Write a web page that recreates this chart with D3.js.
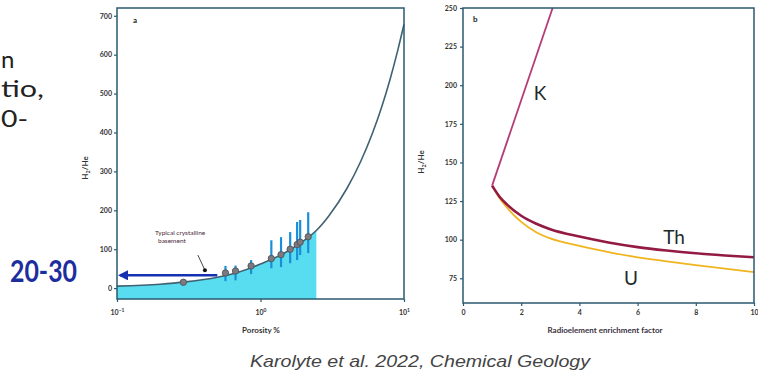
<!DOCTYPE html>
<html>
<head>
<meta charset="utf-8">
<script src="https://cdn.jsdelivr.net/npm/d3@7"></script>
<style>
  body { margin: 0; background: #fff; }
  svg { display: block; }
</style>
</head>
<body>
<div id="chart"></div>
<script>
// ---- data ----
// panel a: model curve, H2/He vs porosity %
var curvePorosity = [0.1, 0.2, 0.3, 0.5, 0.7, 1.0, 1.5, 2.0, 2.45, 3.0, 4.0, 5.0, 6.0, 7.0, 8.0, 9.0, 10];
var curveRatio    = [5, 10, 16, 28, 41, 62, 92, 122, 148, 186, 256, 326, 396, 466, 537, 608, 678];
// panel a: measured samples with error bars
var samplePorosity = [0.29, 0.57, 0.67, 0.86, 1.19, 1.39, 1.61, 1.80, 1.89, 2.15];
var sampleRatio    = [15, 39, 44, 57, 76, 86, 100, 112, 118, 132];
var sampleLow      = [null, 18, 20, 36, 51, 54, 64, 72, 85, 90];
var sampleHigh     = [null, 57, 58, 72, 123, 131, 144, 170, 175, 195];
var basementMax = 2.45;     // cyan band runs up to this porosity
var arrowRatio = 33;        // "20-30" arrow level
var arrowEnd = 0.5;
var yTicksA = [0, 100, 200, 300, 400, 500, 600, 700];
var xTicksA = [0.1, 1, 10];
var xTickExpA = ["\u22121", "0", "1"];

// panel b: H2/He vs radioelement enrichment factor
var enrich  = [1, 1.25, 1.5, 2, 2.5, 3, 4, 5, 6, 7, 8, 9, 10];
var thRatio = [135, 128, 123, 115.5, 110.5, 106.8, 102, 98.2, 95.2, 93, 91.2, 89.8, 88.6];
var uRatio  = [135, 127, 121, 111.5, 105, 100.8, 96, 92, 88.6, 86, 83.5, 81.2, 79];
var kEnrich = [1, 3.08];
var kRatio  = [135, 250];
var yTicksB = [75, 100, 125, 150, 175, 200, 225, 250];
var xTicksB = [0, 2, 4, 6, 8, 10];

var W = 758, H = 379;
var axisColor = "#2b5a70";
var tickFont = "Lato, 'Open Sans', sans-serif";

var svg = d3.select("#chart").append("svg")
    .attr("width", W)
    .attr("height", H);

// ---- slide text cut off at the left ----
var slideText = svg.append("g")
    .style("font-family", "Lato, 'Open Sans', sans-serif")
    .style("font-size", "24px")
    .attr("fill", "#222");
slideText.append("text").attr("x", 1).attr("y", 68).text("n");
slideText.append("text").attr("x", 1).attr("y", 97)
    .attr("textLength", 43).attr("lengthAdjust", "spacingAndGlyphs").text("tio,");
slideText.append("text").attr("x", 1).attr("y", 127)
    .attr("textLength", 27).attr("lengthAdjust", "spacingAndGlyphs").text("0-");

svg.append("text")
    .attr("x", 10).attr("y", 282)
    .attr("textLength", 67)
    .attr("lengthAdjust", "spacingAndGlyphs")
    .style("font-family", "Lato, 'Open Sans', sans-serif")
    .style("font-size", "30px")
    .style("font-weight", "bold")
    .attr("fill", "#1c2e9e")
    .text("20-30");

// ================= panel a =================
var xa = d3.scaleLog().domain([0.1, 10]).range([117, 404]);
var ya = d3.scaleLinear().domain([-28, 720]).range([299, 8]);

var curveData = curvePorosity.map(function (p, i) { return [p, curveRatio[i]]; });

// cyan band under the curve
svg.append("path")
    .datum(curveData.filter(function (d) { return d[0] <= basementMax; }))
    .attr("fill", "#58dcef")
    .attr("d", d3.area()
        .x(function (d) { return xa(d[0]); })
        .y0(ya.range()[0])
        .y1(function (d) { return ya(d[1]); })
        .curve(d3.curveMonotoneX));

// model curve
svg.append("path")
    .datum(curveData)
    .attr("fill", "none")
    .attr("stroke", "#3f6273")
    .attr("stroke-width", 1.6)
    .attr("d", d3.line()
        .x(function (d) { return xa(d[0]); })
        .y(function (d) { return ya(d[1]); })
        .curve(d3.curveMonotoneX));

// error bars
svg.append("g").selectAll("line")
    .data(d3.range(samplePorosity.length).filter(function (i) { return sampleLow[i] != null; }))
    .enter().append("line")
    .attr("x1", function (i) { return xa(samplePorosity[i]); })
    .attr("x2", function (i) { return xa(samplePorosity[i]); })
    .attr("y1", function (i) { return ya(sampleLow[i]); })
    .attr("y2", function (i) { return ya(sampleHigh[i]); })
    .attr("stroke", "#1a8fd6")
    .attr("stroke-width", 2.2);

// sample dots
svg.append("g").selectAll("circle")
    .data(d3.range(samplePorosity.length))
    .enter().append("circle")
    .attr("cx", function (i) { return xa(samplePorosity[i]); })
    .attr("cy", function (i) { return ya(sampleRatio[i]); })
    .attr("r", 3.2)
    .attr("fill", "#7a7a80")
    .attr("stroke", "#4a4d55")
    .attr("stroke-width", 0.8);

// blue arrow to the axis
svg.append("defs").append("marker")
    .attr("id", "arrowhead")
    .attr("viewBox", "0 0 10 10")
    .attr("refX", 8).attr("refY", 5)
    .attr("markerWidth", 4).attr("markerHeight", 4)
    .attr("orient", "auto")
    .append("path")
    .attr("d", "M0,0 L10,5 L0,10 z")
    .attr("fill", "#1530b0");
svg.append("line")
    .attr("x1", xa(arrowEnd)).attr("x2", xa(0.1) + 3)
    .attr("y1", ya(arrowRatio)).attr("y2", ya(arrowRatio))
    .attr("stroke", "#1530b0")
    .attr("stroke-width", 2.6)
    .attr("marker-end", "url(#arrowhead)");

// "Typical crystalline basement" annotation
var note = svg.append("g")
    .style("font-family", tickFont)
    .style("font-size", "6.5px")
    .attr("fill", "#4a2a3a");
note.append("text").attr("x", 155).attr("y", 235).text("Typical crystalline");
note.append("text").attr("x", 158).attr("y", 243).text("basement");
svg.append("line")
    .attr("x1", xa(0.366)).attr("y1", ya(85))
    .attr("x2", xa(0.41)).attr("y2", ya(46))
    .attr("stroke", "#333").attr("stroke-width", 0.9);
svg.append("circle")
    .attr("cx", xa(0.41)).attr("cy", ya(46)).attr("r", 2)
    .attr("fill", "#111");

// frame
svg.append("rect")
    .attr("x", 117).attr("y", 8)
    .attr("width", 404 - 117).attr("height", 299 - 8)
    .attr("fill", "none")
    .attr("stroke", axisColor)
    .attr("stroke-width", 1.5);

// axes
var yAxisA = svg.append("g")
    .attr("transform", "translate(117,0)")
    .call(d3.axisLeft(ya).tickValues(yTicksA).tickSize(3).tickPadding(2));
var xAxisA = svg.append("g")
    .attr("transform", "translate(0,299)")
    .call(d3.axisBottom(xa).tickValues(xTicksA).tickSize(3).tickPadding(5).tickFormat(""));
xAxisA.selectAll(".tick").append("text")
    .attr("y", 16)
    .attr("fill", "#333")
    .attr("text-anchor", "middle")
    .each(function (d, i) {
        var t = d3.select(this);
        t.append("tspan").text("10");
        t.append("tspan").attr("dy", -3).style("font-size", "5px").text(xTickExpA[i]);
    });

svg.append("text")
    .attr("x", 133).attr("y", 23)
    .style("font-family", tickFont).style("font-size", "8px").style("font-weight", "bold")
    .attr("fill", "#222")
    .text("a");

svg.append("text")
    .attr("x", 261).attr("y", 333)
    .attr("text-anchor", "middle")
    .style("font-family", tickFont).style("font-size", "8px").style("font-weight", "bold")
    .attr("fill", "#333")
    .text("Porosity %");

function yLabel(x, y) {
    var t = svg.append("text")
        .attr("transform", "translate(" + x + "," + y + ") rotate(-90)")
        .attr("text-anchor", "middle")
        .style("font-family", tickFont).style("font-size", "8px").style("font-weight", "bold")
        .attr("fill", "#333");
    t.append("tspan").text("H");
    t.append("tspan").attr("dy", 2).style("font-size", "5.5px").text("2");
    t.append("tspan").attr("dy", -2).text("/He");
}
yLabel(88, 168);

// ================= panel b =================
var xb = d3.scaleLinear().domain([0, 10]).range([463, 754]);
var yb = d3.scaleLinear().domain([59, 250]).range([303, 8]);

svg.append("clipPath").attr("id", "clipb")
    .append("rect")
    .attr("x", 463).attr("y", 8)
    .attr("width", 754 - 463).attr("height", 303 - 8);

var lineB = d3.line()
    .x(function (d) { return xb(d[0]); })
    .y(function (d) { return yb(d[1]); })
    .curve(d3.curveMonotoneX);

var plotB = svg.append("g").attr("clip-path", "url(#clipb)");

plotB.append("path")
    .datum(enrich.map(function (e, i) { return [e, uRatio[i]]; }))
    .attr("fill", "none")
    .attr("stroke", "#f0b51e")
    .attr("stroke-width", 1.8)
    .attr("d", lineB);

plotB.append("path")
    .datum(enrich.map(function (e, i) { return [e, thRatio[i]]; }))
    .attr("fill", "none")
    .attr("stroke", "#931a42")
    .attr("stroke-width", 2.6)
    .attr("d", lineB);

plotB.append("path")
    .datum(kEnrich.map(function (e, i) { return [e, kRatio[i]]; }))
    .attr("fill", "none")
    .attr("stroke", "#b53c78")
    .attr("stroke-width", 1.8)
    .attr("d", lineB);

svg.append("rect")
    .attr("x", 463).attr("y", 8)
    .attr("width", 754 - 463).attr("height", 303 - 8)
    .attr("fill", "none")
    .attr("stroke", axisColor)
    .attr("stroke-width", 1.5);

var yAxisB = svg.append("g")
    .attr("transform", "translate(463,0)")
    .call(d3.axisLeft(yb).tickValues(yTicksB).tickSize(3).tickPadding(3));
var xAxisB = svg.append("g")
    .attr("transform", "translate(0,303)")
    .call(d3.axisBottom(xb).tickValues(xTicksB).tickSize(3).tickPadding(3));

// tidy all axes the same way
svg.selectAll(".domain").remove();
svg.selectAll(".tick line").attr("stroke", axisColor).attr("stroke-width", 1.2);
svg.selectAll(".tick text")
    .attr("fill", "#333")
    .style("font-family", tickFont)
    .style("font-size", "7px")
    .style("font-weight", "bold");
xAxisB.selectAll(".tick text").attr("y", 7);

svg.append("text")
    .attr("x", 473).attr("y", 22)
    .style("font-family", tickFont).style("font-size", "8px").style("font-weight", "bold")
    .attr("fill", "#222")
    .text("b");

yLabel(424, 162);

svg.append("text")
    .attr("x", 605).attr("y", 333)
    .attr("text-anchor", "middle")
    .style("font-family", tickFont).style("font-size", "8px").style("font-weight", "bold")
    .attr("fill", "#3a3040")
    .text("Radioelement enrichment factor");

// curve labels
var curveLabels = svg.append("g")
    .style("font-family", "Lato, 'Open Sans', sans-serif")
    .style("font-size", "19px")
    .attr("fill", "#1d2a2a")
    .attr("text-anchor", "middle");
curveLabels.append("text").attr("x", 540).attr("y", 100).text("K");
curveLabels.append("text").attr("x", 674).attr("y", 244).text("Th");
curveLabels.append("text").attr("x", 631).attr("y", 285).text("U");

// source caption
svg.append("text")
    .attr("x", 250).attr("y", 367)
    .attr("textLength", 340)
    .attr("lengthAdjust", "spacingAndGlyphs")
    .style("font-family", "'Liberation Sans', Arial, sans-serif")
    .style("font-size", "17px")
    .style("font-style", "italic")
    .attr("fill", "#444")
    .text("Karolyte et al. 2022, Chemical Geology");
</script>
</body>
</html>
